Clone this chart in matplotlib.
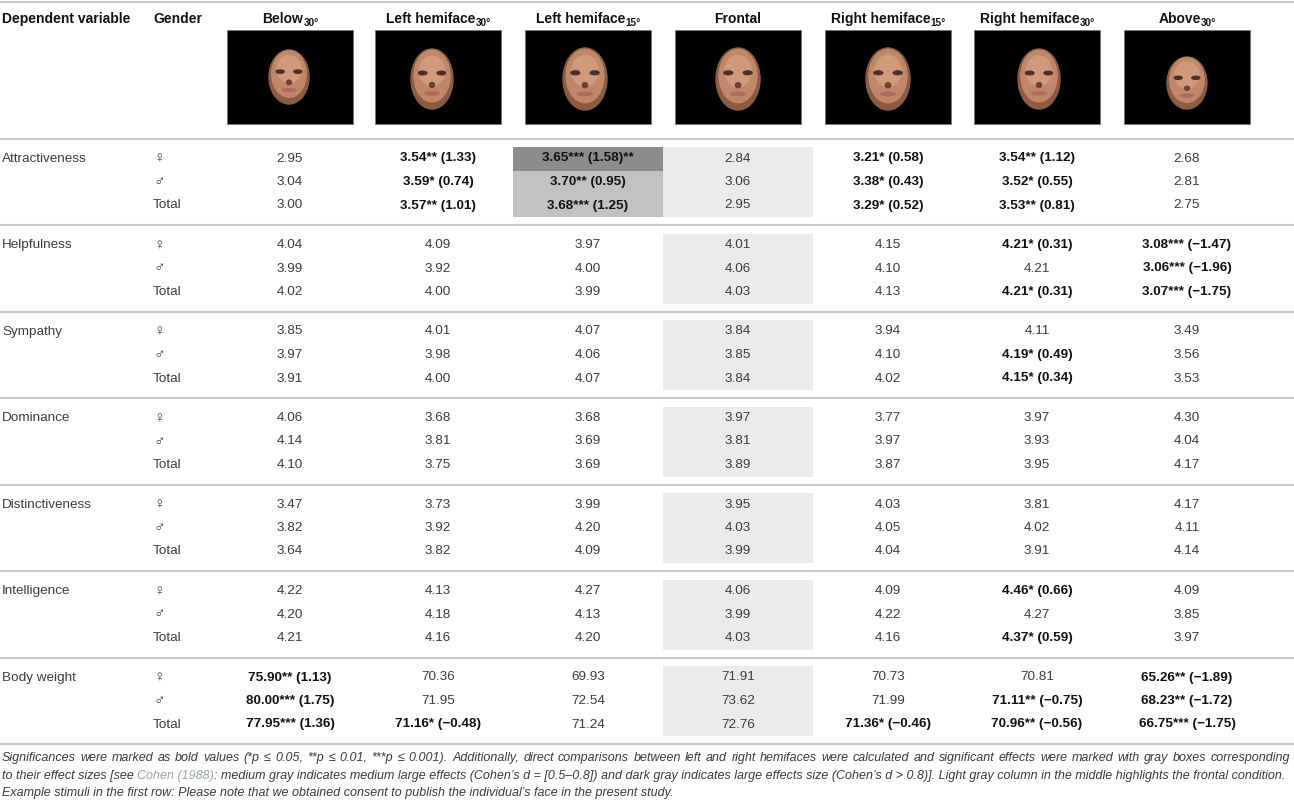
import matplotlib

matplotlib.use("Agg")
import matplotlib.pyplot as plt
from matplotlib.patches import Ellipse, Rectangle

plt.rcParams["font.family"] = ["Liberation Sans", "DejaVu Sans"]

# ---- table content ----
variables = ["Attractiveness", "Helpfulness", "Sympathy", "Dominance",
             "Distinctiveness", "Intelligence", "Body weight"]
genders = ["♀", "♂", "Total"]
condition_names = ["Below", "Left hemiface", "Left hemiface", "Frontal",
                   "Right hemiface", "Right hemiface", "Above"]
condition_angles = ["30°", "30°", "15°", "", "15°", "30°", "30°"]

below_30 = ["2.95", "3.04", "3.00",
            "4.04", "3.99", "4.02",
            "3.85", "3.97", "3.91",
            "4.06", "4.14", "4.10",
            "3.47", "3.82", "3.64",
            "4.22", "4.20", "4.21",
            "75.90** (1.13)", "80.00*** (1.75)", "77.95*** (1.36)"]
left_30 = ["3.54** (1.33)", "3.59* (0.74)", "3.57** (1.01)",
           "4.09", "3.92", "4.00",
           "4.01", "3.98", "4.00",
           "3.68", "3.81", "3.75",
           "3.73", "3.92", "3.82",
           "4.13", "4.18", "4.16",
           "70.36", "71.95", "71.16* (\u22120.48)"]
left_15 = ["3.65*** (1.58)**", "3.70** (0.95)", "3.68*** (1.25)",
           "3.97", "4.00", "3.99",
           "4.07", "4.06", "4.07",
           "3.68", "3.69", "3.69",
           "3.99", "4.20", "4.09",
           "4.27", "4.13", "4.20",
           "69.93", "72.54", "71.24"]
frontal = ["2.84", "3.06", "2.95",
           "4.01", "4.06", "4.03",
           "3.84", "3.85", "3.84",
           "3.97", "3.81", "3.89",
           "3.95", "4.03", "3.99",
           "4.06", "3.99", "4.03",
           "71.91", "73.62", "72.76"]
right_15 = ["3.21* (0.58)", "3.38* (0.43)", "3.29* (0.52)",
            "4.15", "4.10", "4.13",
            "3.94", "4.10", "4.02",
            "3.77", "3.97", "3.87",
            "4.03", "4.05", "4.04",
            "4.09", "4.22", "4.16",
            "70.73", "71.99", "71.36* (\u22120.46)"]
right_30 = ["3.54** (1.12)", "3.52* (0.55)", "3.53** (0.81)",
            "4.21* (0.31)", "4.21", "4.21* (0.31)",
            "4.11", "4.19* (0.49)", "4.15* (0.34)",
            "3.97", "3.93", "3.95",
            "3.81", "4.02", "3.91",
            "4.46* (0.66)", "4.27", "4.37* (0.59)",
            "70.81", "71.11** (\u22120.75)", "70.96** (\u22120.56)"]
above_30 = ["2.68", "2.81", "2.75",
            "3.08*** (\u22121.47)", "3.06*** (\u22121.96)", "3.07*** (\u22121.75)",
            "3.49", "3.56", "3.53",
            "4.30", "4.04", "4.17",
            "4.17", "4.11", "4.14",
            "4.09", "3.85", "3.97",
            "65.26** (\u22121.89)", "68.23** (\u22121.72)", "66.75*** (\u22121.75)"]
columns = [below_30, left_30, left_15, frontal, right_15, right_30, above_30]

# hemiface comparison boxes: (column, row, shade)
effect_boxes = [(2, 0, "dark"), (2, 1, "medium"), (2, 2, "medium")]
frontal_col = 3

footnote_1 = ("Significances were marked as bold values (*p \u2264 0.05, **p \u2264 0.01, "
              "***p \u2264 0.001). Additionally, direct comparisons between left and right "
              "hemifaces were calculated and significant effects were marked with gray boxes corresponding")
footnote_2 = ["to their effect sizes [see ", "Cohen (1988)",
              ": medium gray indicates medium large effects (Cohen\u2019s d = [0.5\u20130.8]) and dark "
              "gray indicates large effects size (Cohen\u2019s d > 0.8)]. Light gray column in the "
              "middle highlights the frontal condition."]
footnote_3 = ("Example stimuli in the first row: Please note that we obtained consent to publish "
              "the individual\u2019s face in the present study.")

# ---- layout (pixels) ----
W, H = 1294, 802
col_x = [290, 438, 588, 738, 888, 1037, 1187]
col_w = 150
section_top = 139
section_h = 86.5
row_off = [19.5, 43, 66.5]
fs = 9.7
rule_color = "#c8c8c8"
txt_color = "#3c3c3c"
note_color = "#3a3a3a"
shades = {"dark": "#8c8c8c", "medium": "#c2c2c2", "light": "#ebebeb"}
# face placement per view: dx, dy, width, height
face_views = [(-1, -2, 40, 54), (-6, 0, 42, 60), (-3, 0, 44, 62), (0, 0, 44, 62),
              (0, 0, 44, 62), (2, 0, 42, 60), (0, 4, 40, 52)]

fig = plt.figure(figsize=(W / 100, H / 100), dpi=100)
ax = fig.add_axes([0, 0, 1, 1])
ax.set_xlim(0, W)
ax.set_ylim(H, 0)
ax.axis("off")
renderer = fig.canvas.get_renderer()


def text_width(t):
    return t.get_window_extent(renderer).width


# rules
ax.axhline(2, color=rule_color, lw=1.5)
for k in range(len(variables) + 1):
    ax.axhline(section_top + k * section_h - 0.5, color=rule_color, lw=1.5)

# frontal highlight column and effect boxes
for k in range(len(variables)):
    top = section_top + k * section_h
    ax.add_patch(Rectangle((col_x[frontal_col] - col_w / 2, top + 8), col_w, 70,
                           color=shades["light"], lw=0, zorder=0))
for c, r, shade in effect_boxes:
    k, g = divmod(r, 3)
    top = section_top + k * section_h
    edges = [top + 8, top + 32, top + 55, top + 78]
    ax.add_patch(Rectangle((col_x[c] - col_w / 2, edges[g]), col_w, edges[g + 1] - edges[g],
                           color=shades[shade], lw=0, zorder=1))

# header
hfs = 10
ax.text(2, 19, "Dependent variable", fontsize=hfs, fontweight="bold", va="center", color="#111")
ax.text(153, 19, "Gender", fontsize=hfs, fontweight="bold", va="center", color="#111")
for x, name, ang in zip(col_x, condition_names, condition_angles):
    t1 = ax.text(0, 19, name, fontsize=hfs, fontweight="bold", va="center", color="#111")
    w1 = text_width(t1)
    w2 = 0
    t2 = None
    if ang:
        t2 = ax.text(0, 23, ang, fontsize=hfs * 0.72, fontweight="bold", va="center", color="#111")
        w2 = text_width(t2)
    left = x - (w1 + w2) / 2
    t1.set_x(left)
    if t2 is not None:
        t2.set_x(left + w1 + 0.5)

# stimuli thumbnails
for x, (dx, dy, fw, fh) in zip(col_x, face_views):
    ax.add_patch(Rectangle((x - 63, 30), 126, 94, facecolor="black", edgecolor="#777", lw=0.6))
    cx, cy = x + dx, 79 + dy
    ax.add_patch(Ellipse((cx, cy), fw, fh, color="#8e5c42"))
    ax.add_patch(Ellipse((cx, cy - 3), fw * 0.86, fh * 0.86, color="#c08868"))
    ax.add_patch(Ellipse((cx, cy - 8), fw * 0.6, fh * 0.5, color="#cf9a7a"))
    for ex in (-0.22, 0.22):
        ax.add_patch(Ellipse((cx + ex * fw, cy - 0.1 * fh), fw * 0.2, fh * 0.06, color="#4a3028"))
    ax.add_patch(Ellipse((cx, cy + 0.1 * fh), fw * 0.12, fh * 0.08, color="#6a4232"))
    ax.add_patch(Ellipse((cx, cy + 0.24 * fh), fw * 0.34, fh * 0.05, color="#b06a60"))

# body
for k, var in enumerate(variables):
    top = section_top + k * section_h
    ax.text(2, top + row_off[0], var, fontsize=fs, va="center", color=txt_color)
    for g, gender in enumerate(genders):
        y = top + row_off[g]
        ax.text(153, y, gender, fontsize=fs * (1.15 if g < 2 else 1.0), va="center",
                color=txt_color)
        for x, col in zip(col_x, columns):
            val = col[k * 3 + g]
            bold = "*" in val
            ax.text(x, y, val, fontsize=fs, va="center", ha="center", zorder=3,
                    fontweight="bold" if bold else "normal",
                    color="#111" if bold else txt_color)

# footnote: font fitted to the second (longest) line, first line justified
fn_right = 1290
probe = [ax.text(0, 0, s, fontsize=10, style="italic") for s in footnote_2]
fn_fs = 10 * (fn_right - 2) / sum(text_width(t) for t in probe)
for t in probe:
    t.remove()

x = 2
for i, seg in enumerate(footnote_2):
    t = ax.text(x, 775.5, seg, fontsize=fn_fs, style="italic", va="center",
                color="#9aa3ab" if i == 1 else note_color)
    x += text_width(t)

words = footnote_1.split(" ")
word_texts = [ax.text(0, 758, w, fontsize=fn_fs, style="italic", va="center", color=note_color)
              for w in words]
widths = [text_width(t) for t in word_texts]
gap = (fn_right - 2 - sum(widths)) / (len(words) - 1)
x = 2
for t, w in zip(word_texts, widths):
    t.set_x(x)
    x += w + gap

ax.text(2, 793, footnote_3, fontsize=fn_fs, style="italic", va="center", color=note_color)

fig.savefig("out.png", dpi=100)
